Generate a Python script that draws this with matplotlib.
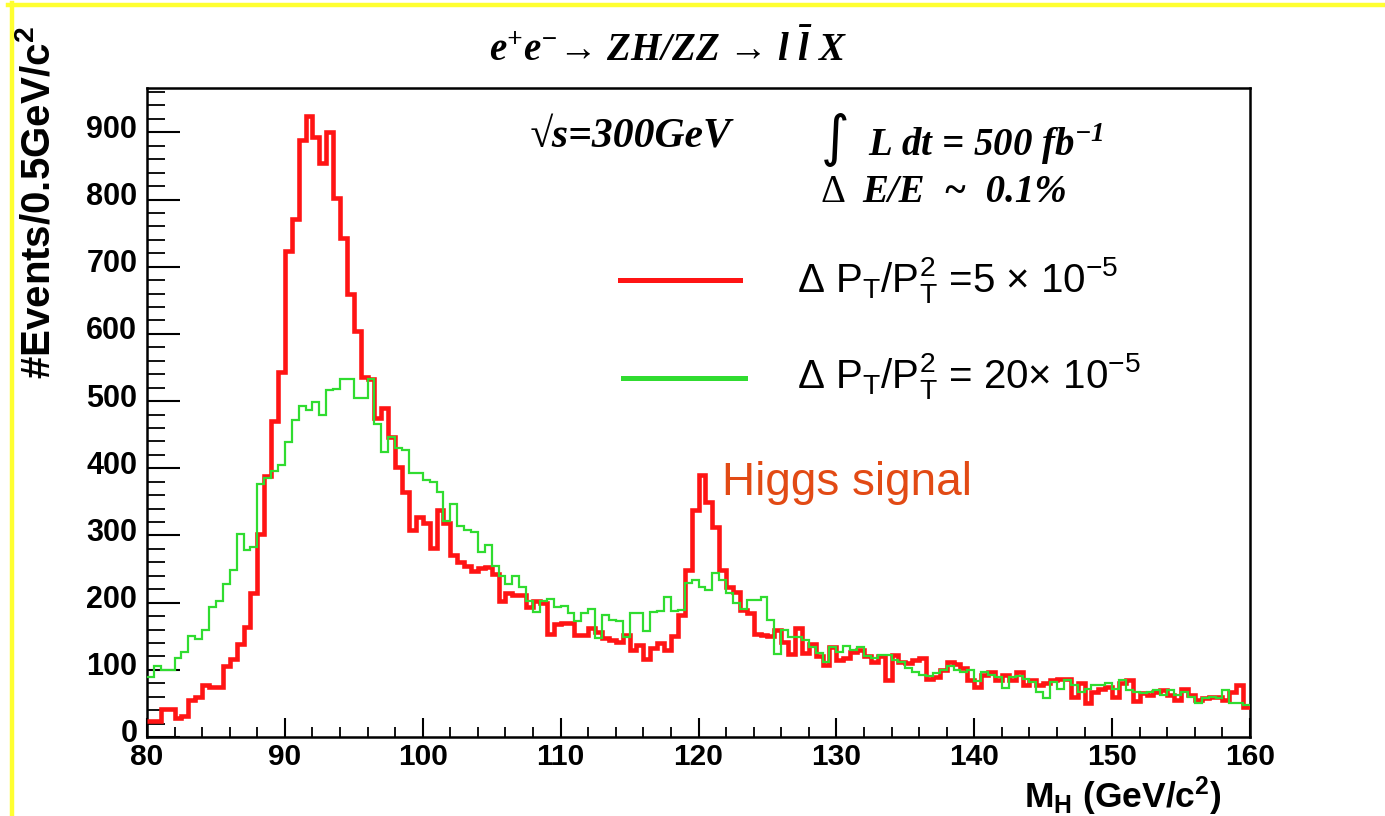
import numpy as np
import matplotlib
matplotlib.use("Agg")
import matplotlib.pyplot as plt
import matplotlib.transforms as mtransforms
from matplotlib.lines import Line2D
from matplotlib.ticker import MultipleLocator

plt.rcParams["mathtext.default"] = "regular"

# Histogram binning (GeV/c^2)
mass_lo, mass_hi, bin_width = 80.0, 160.0, 0.5

# Events per 0.5 GeV/c^2 bin, resolution 5e-5
red_counts = [
    24, 24, 42, 42, 28, 32, 55, 59, 78, 74,
    74, 105, 116, 139, 164, 214, 302, 389, 471, 543,
    724, 771, 888, 924, 893, 855, 901, 803, 743, 659,
    605, 536, 533, 475, 489, 446, 402, 364, 308, 327,
    318, 282, 338, 318, 271, 261, 255, 247, 251, 253,
    243, 202, 214, 211, 211, 193, 202, 199, 153, 168,
    170, 170, 152, 152, 162, 157, 147, 144, 142, 152,
    129, 137, 116, 133, 140, 129, 150, 181, 248, 338,
    390, 350, 313, 248, 223, 216, 189, 184, 154, 152,
    150, 159, 142, 124, 162, 125, 139, 120, 107, 134,
    115, 117, 127, 129, 120, 112, 120, 85, 122, 112,
    110, 115, 117, 87, 90, 100, 112, 108, 102, 85,
    75, 92, 97, 85, 92, 85, 97, 77, 85, 77,
    80, 85, 86, 86, 60, 80, 51, 67, 72, 75,
    60, 80, 85, 54, 65, 62, 67, 70, 62, 55,
    72, 62, 55, 58, 60, 60, 55, 67, 77, 44,
]

# Events per 0.5 GeV/c^2 bin, resolution 20e-5
green_counts = [
    89, 105, 99, 99, 118, 127, 151, 146, 159, 193,
    202, 227, 249, 302, 278, 283, 377, 386, 396, 405,
    439, 472, 493, 486, 499, 480, 516, 518, 533, 533,
    505, 505, 533, 466, 424, 446, 430, 427, 393, 393,
    383, 380, 364, 321, 347, 314, 308, 305, 276, 286,
    255, 239, 228, 239, 224, 202, 186, 202, 205, 193,
    195, 185, 172, 184, 190, 147, 181, 174, 172, 149,
    185, 185, 158, 186, 188, 208, 188, 189, 229, 234,
    224, 219, 244, 234, 214, 199, 191, 204, 204, 209,
    174, 124, 159, 149, 149, 144, 134, 125, 112, 134,
    127, 135, 129, 134, 120, 117, 122, 122, 115, 112,
    102, 97, 92, 91, 95, 100, 105, 100, 97, 100,
    84, 97, 92, 90, 73, 90, 91, 87, 82, 67,
    58, 82, 72, 85, 77, 67, 72, 77, 77, 80,
    72, 85, 70, 67, 65, 67, 70, 62, 70, 62,
    67, 60, 51, 58, 60, 58, 70, 50, 50, 48,
]

x_ticks = [80, 90, 100, 110, 120, 130, 140, 150, 160]
y_ticks = [0, 100, 200, 300, 400, 500, 600, 700, 800, 900]

title_text = "e$^{+}$e$^{-}$\u2192 ZH/ZZ \u2192 l $\\bar{l}$ X"
energy_text = "\u221As=300GeV"
lumi_text = "\u222B  L dt = 500 fb$^{-1}$"
beam_text = "E/E  ~  0.1%"
delta_sign = "\u0394"
red_label = "\u0394 P$_{T}$/P$_{T}^{2}$ =5 \u00D7 10$^{-5}$"
green_label = "\u0394 P$_{T}$/P$_{T}^{2}$ = 20\u00D7 10$^{-5}$"
signal_text = "Higgs signal"
x_title = "M$_{H}$ (GeV/c$^{2}$)"
y_title = "#Events/0.5GeV/c$^{2}$"

RED = "#ff1414"
GREEN = "#30dc30"
SANS = "Liberation Sans"
SERIF = "Liberation Serif"

W, H = 1385, 816
fig = plt.figure(figsize=(W / 100, H / 100), dpi=100)
fig.patch.set_facecolor("white")


def fx(px):
    return px / W


def fy(py):
    return 1 - py / H


ax = fig.add_axes([fx(147), fy(737), fx(1250) - fx(147), fy(88) - fy(737)])

edges = np.arange(mass_lo, mass_hi + bin_width / 2, bin_width)
ax.stairs(red_counts, edges, baseline=None, color=RED, lw=3.3, zorder=3)
ax.stairs(green_counts, edges, baseline=None, color=GREEN, lw=1.6, zorder=4)

ax.set_xlim(mass_lo, mass_hi)
ax.set_ylim(0, 966)
ax.set_xticks(x_ticks)
ax.set_yticks(y_ticks)
ax.xaxis.set_minor_locator(MultipleLocator(2))
ax.yaxis.set_minor_locator(MultipleLocator(20))
ax.tick_params(axis="x", which="major", direction="in", length=14, width=1.5, pad=4)
ax.tick_params(axis="x", which="minor", direction="in", length=7, width=1.3)
ax.tick_params(axis="y", which="major", direction="in", length=24, width=1.5, pad=7)
ax.tick_params(axis="y", which="minor", direction="in", length=13, width=1.3)
lift = mtransforms.ScaledTranslation(0, 6 / 100, fig.dpi_scale_trans)
for lab in ax.get_xticklabels():
    lab.set_fontfamily(SANS)
    lab.set_fontweight("bold")
    lab.set_fontsize(21.5)
for lab in ax.get_yticklabels():
    lab.set_fontfamily(SANS)
    lab.set_fontweight("bold")
    lab.set_fontsize(22)
    lab.set_transform(lab.get_transform() + lift)
for sp in ax.spines.values():
    sp.set_linewidth(1.8)

# Legend lines and labels
ax.plot([0.4288, 0.5376], [0.704, 0.704], transform=ax.transAxes, color=RED, lw=3.6)
ax.plot([0.4316, 0.5422], [0.553, 0.553], transform=ax.transAxes, color=GREEN, lw=3.6)
fig.text(fx(797), fy(280), red_label, family=SANS, fontsize=29, va="center", ha="left")
fig.text(fx(797), fy(376), green_label, family=SANS, fontsize=29, va="center", ha="left")

# Annotations
serif_kw = dict(family=SERIF, weight="bold", style="italic")
fig.text(fx(668), fy(50), title_text, fontsize=28, ha="center", va="center", **serif_kw)
fig.text(fx(530), fy(137), energy_text, fontsize=30, ha="left", va="center", **serif_kw)
fig.text(fx(820), fy(140), lumi_text, fontsize=28, ha="left", va="center", **serif_kw)
fig.text(fx(820), fy(192), delta_sign, family=SERIF, fontsize=28, ha="left", va="center")
fig.text(fx(862), fy(192), beam_text, fontsize=28, ha="left", va="center", **serif_kw)
fig.text(fx(722), fy(483), signal_text, family=SANS, fontsize=33, color="#e24a14",
         ha="left", va="center")

fig.text(fx(1222), fy(808), x_title, family=SANS, weight="bold", fontsize=25.5,
         ha="right", va="baseline")
fig.text(fx(38), fy(26), y_title, family=SANS, weight="bold", fontsize=29,
         rotation=90, ha="center", va="top")

# Slide frame
fig.add_artist(Line2D([fx(8), 1.0], [fy(5), fy(5)], color="#ffff30", lw=3.2))
fig.add_artist(Line2D([fx(12), fx(12)], [fy(3), 0.0], color="#ffff30", lw=3.2))

fig.savefig("out.png", dpi=100, facecolor="white")
